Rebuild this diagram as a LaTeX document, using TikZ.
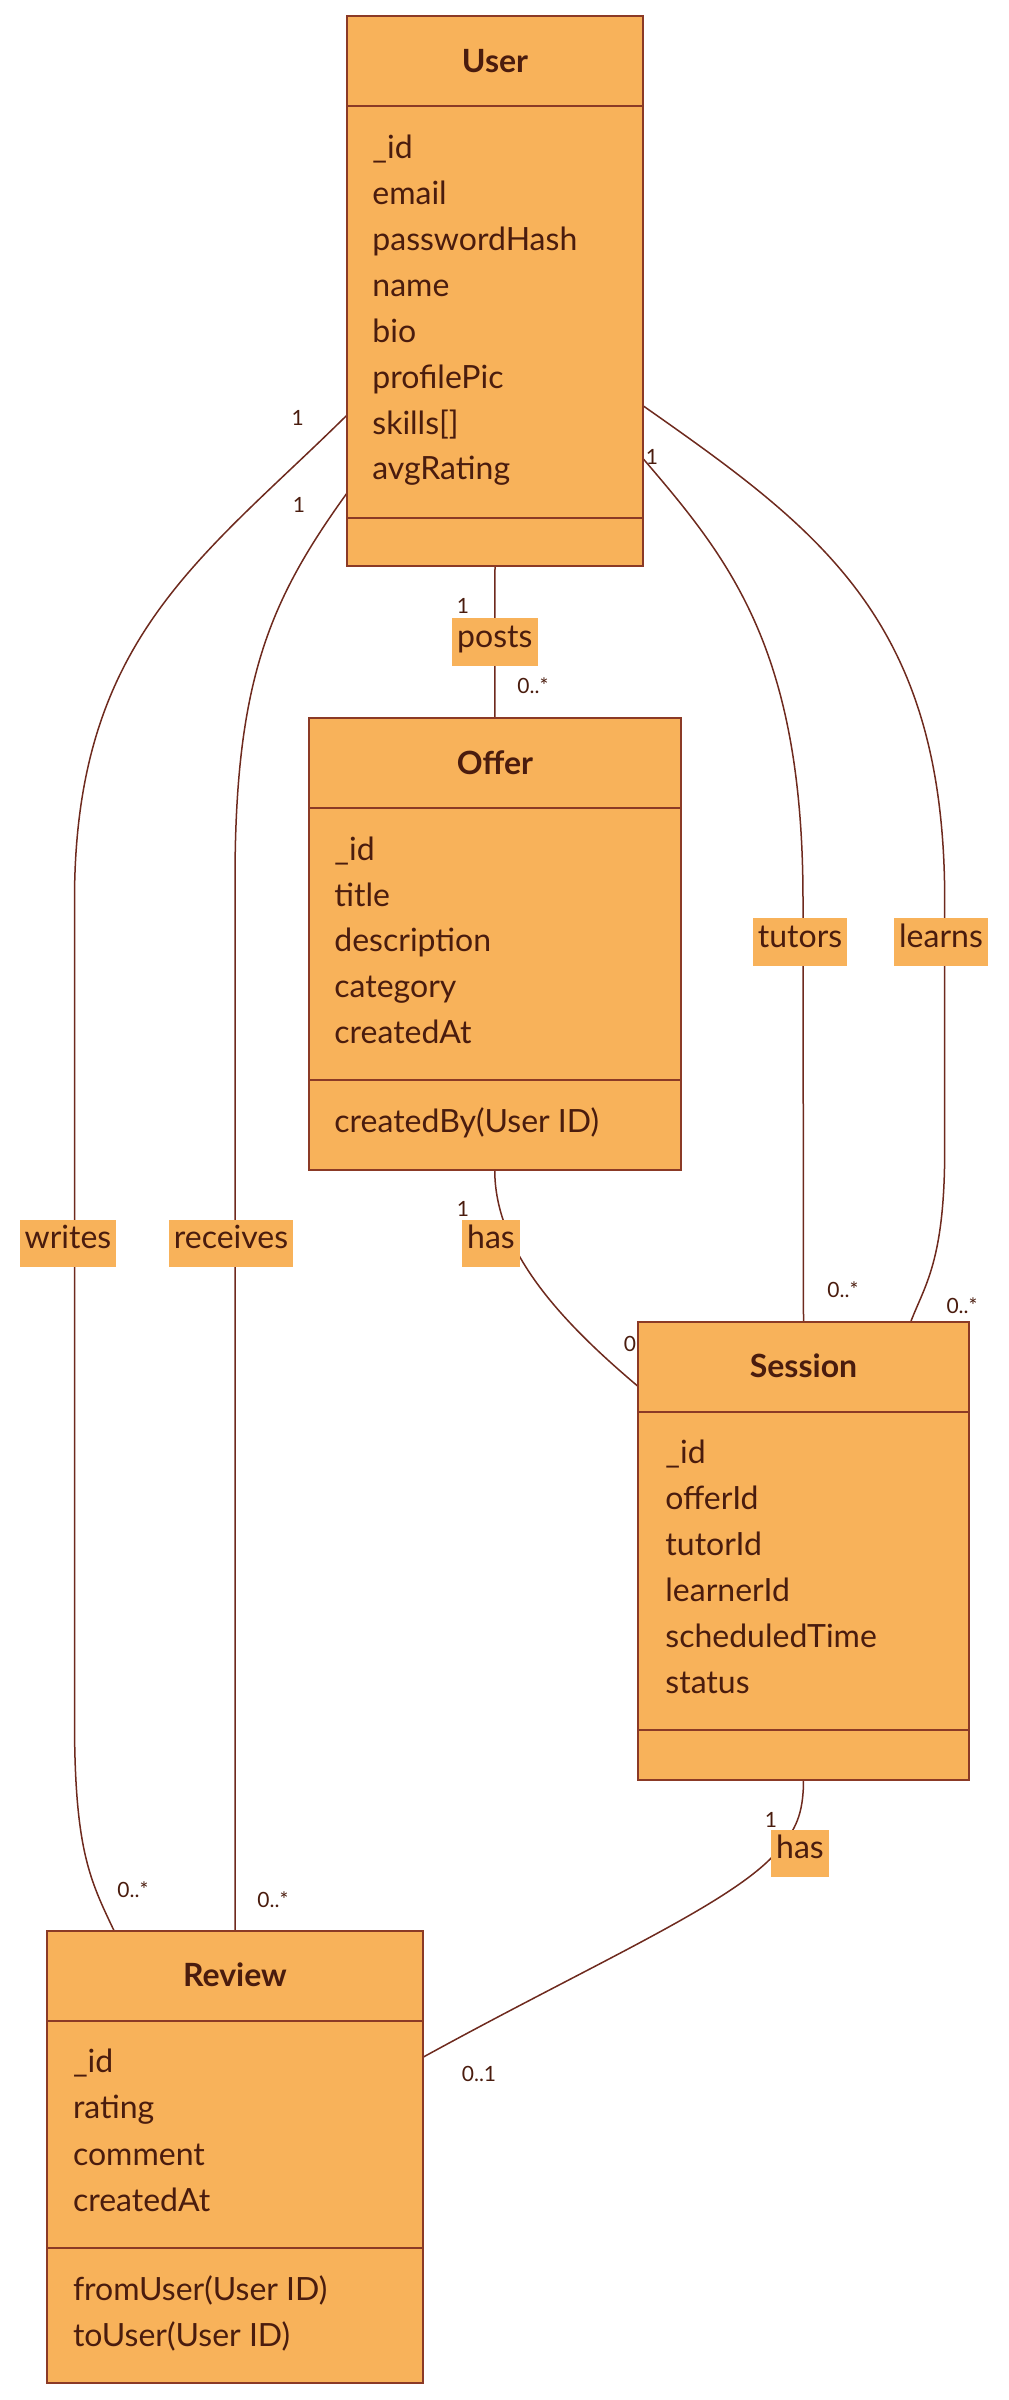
\documentclass[tikz,border=0pt]{standalone}
\usepackage{fontspec}
\setmainfont{Lato}
\usetikzlibrary{calc}
\definecolor{boxfill}{HTML}{F8B25A}
\definecolor{boxline}{HTML}{8B3A26}
\definecolor{edgeline}{HTML}{6E2A1E}
\definecolor{txt}{HTML}{4A1C0E}
\tikzset{
  classbox/.style={draw=boxline, fill=boxfill, line width=1pt, rectangle, inner sep=0pt},
  divider/.style={draw=boxline, line width=1pt},
  ttl/.style={text=txt, font=\fontsize{16}{19}\selectfont\bfseries, inner sep=0pt},
  attr/.style={text=txt, font=\fontsize{16}{19}\selectfont, anchor=west, inner sep=0pt, text height=1em, text depth=0.2em},
  conn/.style={draw=edgeline, line width=0.75pt},
  lbl/.style={fill=boxfill, text=txt, font=\fontsize{16}{19}\selectfont, inner xsep=2.5pt, inner ysep=7.2pt, text height=0.72em, text depth=0.2em},
  mult/.style={text=txt, font=\fontsize{10.5}{12}\selectfont, inner sep=0pt},
}
\begin{document}
\begin{tikzpicture}[x=0.5pt, y=-0.5pt]
\useasboundingbox (0,0) rectangle (1008,2400);

% ---------- geometry of the class boxes (used by connectors) ----------
\path (495,291) node[minimum width=148pt, minimum height=275pt, inner sep=0pt] (userg) {};
\path (494.75,943.8) node[minimum width=186.25pt, minimum height=225.8pt, inner sep=0pt] (offerg) {};
\path (803.5,1550.5) node[minimum width=165.5pt, minimum height=229pt, inner sep=0pt] (sessiong) {};
\path (235,2157) node[minimum width=188pt, minimum height=226pt, inner sep=0pt] (reviewg) {};

% posts
\draw[conn] (userg.south) -- node[lbl] (lposts) {posts} (offerg.north);
% offer has session
\draw[conn] (offerg.south) .. controls +(0,80) and +(-78,-66) .. ($(sessiong.west)+(0,-164.5)$);
% writes
\draw[conn] ($(userg.west)+(0,124.5)$) .. controls (200,560) and (74.5,640) .. (74.5,900)
   -- (74.5,1720) .. controls (74.5,1850) and (90,1880) .. ($(reviewg.north)+(-121,0)$);
% receives
\draw[conn] ($(userg.west)+(0,202.6)$) .. controls (270,600) and (235,680) .. (235,880) -- (reviewg.north);
% tutors
\draw[conn] ($(userg.east)+(0,168)$) .. controls (730,560) and (803,650) .. (803,900) -- (sessiong.north);
% learns
\draw[conn] ($(userg.east)+(0,115)$) .. controls (820,530) and (944.7,620) .. (944.7,900)
   -- (944.7,1150) .. controls (944.7,1260) and (925,1285) .. ($(sessiong.north)+(107.5,0)$);
% session has review
\draw[conn] (sessiong.south) .. controls +(0,35) and (795,1830) .. (780,1848)
   .. controls (740,1900) and (600,1960) .. ($(reviewg.east)+(0,-100)$);

% edge labels
\node[lbl] (lhas1) at (491,1243.5) {has};
\node[lbl] (lwrites) at (68,1243.5) {writes};
\node[lbl] (lreceives) at (231,1243.5) {receives};
\node[lbl] (ltutors) at (800,942) {tutors};
\node[lbl] (llearns) at (941,942) {learns};
\node[lbl] (lhas2) at (800,1853.5) {has};

% multiplicities
\node[mult] (m1) at (463,606) {1};
\node[mult] (m2) at (533,686) {0..*};
\node[mult] (m3) at (463,1209) {1};
\node[mult] (m4) at (630,1344) {0};
\node[mult] (m5) at (297.6,418) {1};
\node[mult] (m6) at (133,1890) {0..*};
\node[mult] (m7) at (299,505) {1};
\node[mult] (m8) at (273,1899.5) {0..*};
\node[mult] (m9) at (652,457) {1};
\node[mult] (m10) at (843,1290) {0..*};
\node[mult] (m11) at (962,1306) {0..*};
\node[mult] (m12) at (771,1820) {1};
\node[mult] (m13) at (479,2074) {0..1};

% ---------- User ----------
\node[classbox, minimum width=148pt, minimum height=275pt] (user) at (495,291) {};
\draw[divider] (347,106) -- (643,106);
\draw[divider] (347,518) -- (643,518);
\node[ttl] (usert) at (495,61) {User};
\node[attr] (u1) at (372,150) {\_id};
\node[attr] (u2) at (372,196) {email};
\node[attr] (u3) at (372,242) {passwordHash};
\node[attr] (u4) at (372,288) {name};
\node[attr] (u5) at (372,334) {bio};
\node[attr] (u6) at (372,380) {profilePic};
\node[attr] (u7) at (372,426) {skills[]};
\node[attr] (u8) at (372,471) {avgRating};

% ---------- Offer ----------
\node[classbox, minimum width=186.25pt, minimum height=225.8pt] (offer) at (494.75,943.8) {};
\draw[divider] (308.5,807.6) -- (681,807.6);
\draw[divider] (308.5,1080) -- (681,1080);
\node[ttl] (offert) at (495,762.5) {Offer};
\node[attr] (o1) at (334,852) {\_id};
\node[attr] (o2) at (334,898) {title};
\node[attr] (o3) at (334,943.5) {description};
\node[attr] (o4) at (334,989.5) {category};
\node[attr] (o5) at (334,1035) {createdAt};
\node[attr] (o6) at (334,1124) {createdBy(User ID)};

% ---------- Session ----------
\node[classbox, minimum width=165.5pt, minimum height=229pt] (session) at (803.5,1550.5) {};
\draw[divider] (638,1411.5) -- (969,1411.5);
\draw[divider] (638,1730) -- (969,1730);
\node[ttl] (sessiont) at (803.5,1366) {Session};
\node[attr] (s1) at (665,1455) {\_id};
\node[attr] (s2) at (665,1501) {offerId};
\node[attr] (s3) at (665,1547) {tutorId};
\node[attr] (s4) at (665,1593) {learnerId};
\node[attr] (s5) at (665,1639) {scheduledTime};
\node[attr] (s6) at (665,1685) {status};

% ---------- Review ----------
\node[classbox, minimum width=188pt, minimum height=226pt] (review) at (235,2157) {};
\draw[divider] (47,2020.5) -- (423,2020.5);
\draw[divider] (47,2247.8) -- (423,2247.8);
\node[ttl] (reviewt) at (235,1975) {Review};
\node[attr] (r1) at (72.6,2064) {\_id};
\node[attr] (r2) at (72.6,2110.5) {rating};
\node[attr] (r3) at (72.6,2157) {comment};
\node[attr] (r4) at (72.6,2203) {createdAt};
\node[attr] (r5) at (72.6,2292) {fromUser(User ID)};
\node[attr] (r6) at (72.6,2338) {toUser(User ID)};
\end{tikzpicture}
\end{document}
